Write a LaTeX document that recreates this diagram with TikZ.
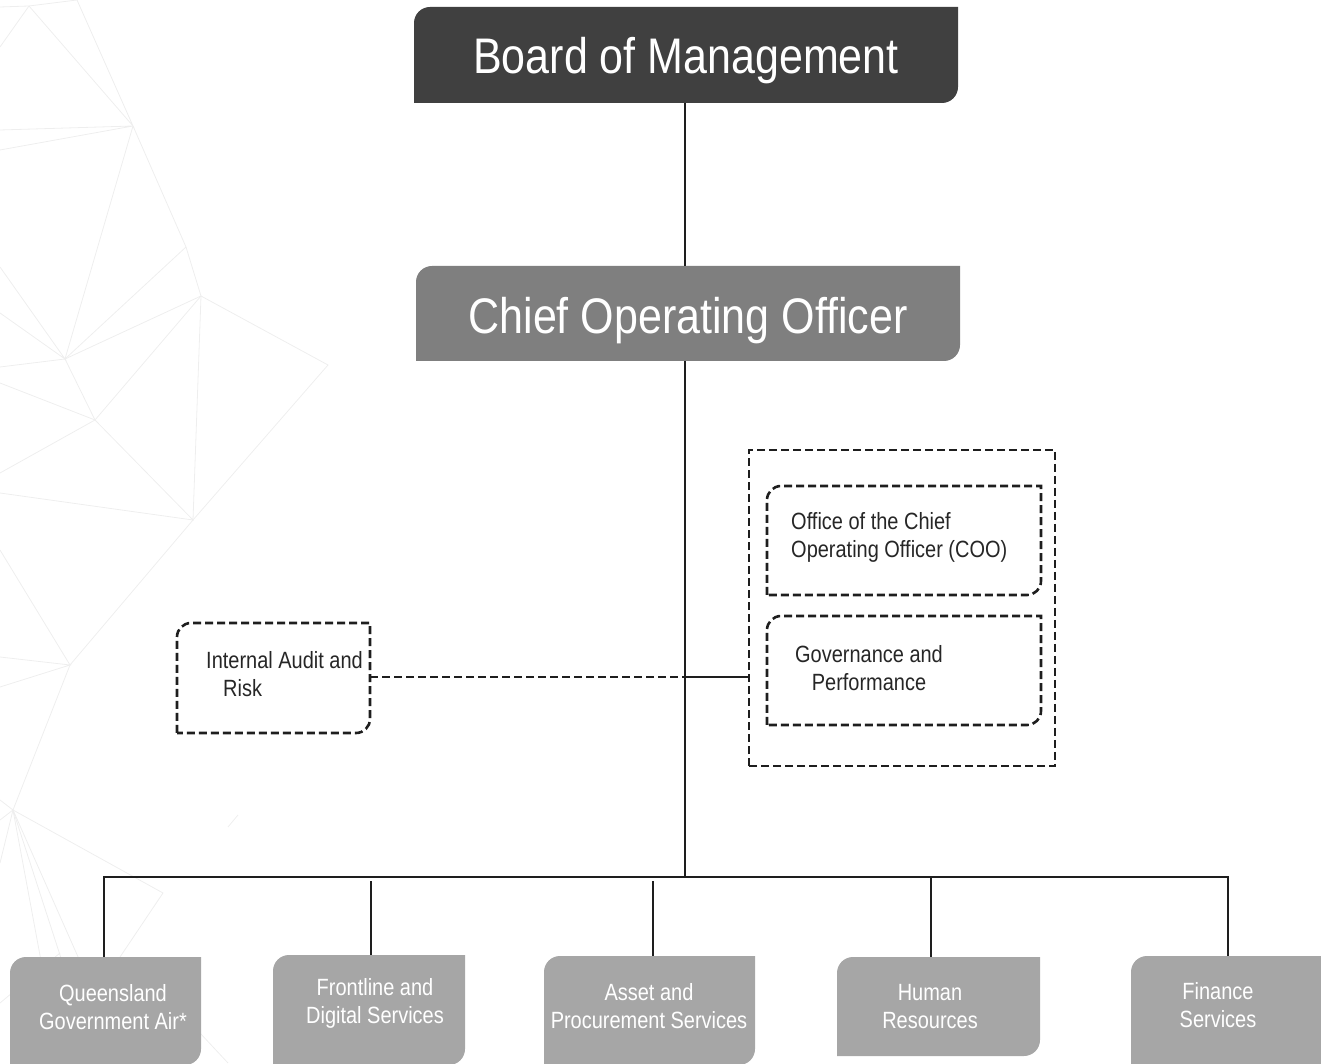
\documentclass[tikz,border=0pt]{standalone}
\usepackage{fontspec}
\setmainfont[FakeStretch=0.85]{Liberation Sans}
\newfontfamily\titlefam[FakeStretch=0.86]{Liberation Sans}
\usetikzlibrary{backgrounds}
\definecolor{boardc}{HTML}{404040}
\definecolor{cooc}{HTML}{7F7F7F}
\definecolor{unitc}{HTML}{A6A6A6}
\definecolor{linec}{HTML}{1E1E1E}
\definecolor{txtc}{HTML}{262626}
\definecolor{faintc}{HTML}{EEEEEE}
\begin{document}
\begin{tikzpicture}[x=1pt,y=1pt,
  frame/.style={rectangle,inner sep=0pt,outer sep=0pt},
  tlbr/.style 2 args={insert path={(#1.south west) -- ([yshift=-#2]#1.north west)
      arc[start angle=180,end angle=90,radius=#2] -- (#1.north east)
      -- ([yshift=#2]#1.south east) arc[start angle=0,end angle=-90,radius=#2] -- cycle}},
  titletext/.style={text=white,font=\titlefam\fontsize{50}{58}\selectfont},
  unittext/.style={text=white,align=center,inner sep=0pt,font=\fontsize{23.5}{28}\selectfont},
  smalltext/.style={text=txtc,inner sep=0pt,font=\fontsize{23.5}{28}\selectfont},
  conn/.style={draw=linec,line width=2.5pt},
  dconn/.style={draw=linec,line width=2.6pt,dash pattern=on 8pt off 4pt},
  faint/.style={draw=faintc,line width=0.8pt}]
\useasboundingbox (0,0) rectangle (1321,1063);
\clip (0,0) rectangle (1321,1063);

% main boxes
\node[frame,minimum width=544,minimum height=96] (board) at (686,1008) {};
\node[titletext] (boardt) at (686,1002) {Board of Management};
\node[frame,minimum width=544,minimum height=95] (coo) at (688,749.5) {};
\node[titletext] (coot) at (688,742) {Chief Operating Officer};

% dashed group
\node[frame,minimum width=306,minimum height=316] (grp) at (902,455) {};
\node[frame,minimum width=274,minimum height=109] (office) at (904,522.5) {};
\node[frame,minimum width=274,minimum height=109] (gov) at (904,392.5) {};
\node[smalltext,anchor=west,align=left] (officet) at (791,525.5) {Office of the Chief\\Operating Officer (COO)};
\node[smalltext,align=center] (govt) at (869,395) {Governance and\\Performance};
\draw[dconn] (grp.south west) rectangle (grp.north east);
\draw[dconn,tlbr={office}{14}];
\draw[dconn,tlbr={gov}{14}];

% internal audit
\node[frame,minimum width=193,minimum height=110] (iar) at (273.5,385) {};
\node[smalltext,anchor=west,align=left] (iart) at (206,389) {Internal Audit and\\\hspace*{17pt}Risk};
\draw[dconn,tlbr={iar}{14}];

% units
\node[frame,minimum width=191,minimum height=108] (qga) at (105.5,52) {};
\node[frame,minimum width=192,minimum height=110] (fds) at (369,53) {};
\node[frame,minimum width=211,minimum height=109] (aps) at (649.5,52.5) {};
\node[frame,minimum width=203,minimum height=99] (hr) at (938.5,56.5) {};
\node[frame,minimum width=200,minimum height=109] (fin) at (1231,52.5) {};
\node[unittext] (qgat) at (113,56) {Queensland\\Government Air*};
\node[unittext] (fdst) at (375,60) {Frontline and\\Digital Services};
\node[unittext] (apst) at (649,57) {Asset and\\Procurement Services};
\node[unittext] (hrt) at (930,56) {Human\\Resources};
\node[unittext] (fint) at (1218,58) {Finance\\Services};

\begin{scope}[on background layer]
% faint background mesh
\begin{scope}[faint]
\draw (0,1056) -- (29,1057) -- (77,1063);
\draw (29,1057) -- (0,1016);
\draw (29,1057) -- (133,937) -- (77,1063);
\draw (0,933) -- (133,937) -- (0,913);
\draw (133,937) -- (186,816) -- (201,767) -- (65,704) -- (133,937);
\draw (186,816) -- (65,704);
\draw (0,796) -- (65,704) -- (0,750);
\draw (0,696) -- (65,704) -- (95,643) -- (201,767);
\draw (0,680) -- (95,643) -- (0,590);
\draw (95,643) -- (193,543) -- (201,767);
\draw (201,767) -- (328,698) -- (193,543);
\draw (0,570) -- (193,543) -- (70,398) -- (0,513);
\draw (0,406) -- (70,398) -- (0,376);
\draw (70,398) -- (13,253) -- (0,263);
\draw (0,243) -- (13,253) -- (163,170) -- (118,103);
\draw (13,253) -- (60,0);
\draw (13,253) -- (95,0);
\draw (13,253) -- (125,0);
\draw (13,253) -- (0,200);
\draw (0,60) -- (60,110);
\draw (200,30) -- (228,0);
\draw (228,236) -- (238,248);
\end{scope}
\fill[boardc,tlbr={board}{16}];
\fill[cooc,tlbr={coo}{16}];
\fill[unitc,tlbr={qga}{16}];
\fill[unitc,tlbr={fds}{16}];
\fill[unitc,tlbr={aps}{16}];
\fill[unitc,tlbr={hr}{16}];
\fill[unitc,tlbr={fin}{16}];
\end{scope}

% connectors
\coordinate (spx) at (685,0);
\coordinate (jn) at (685,386);
\coordinate (d1) at (104,186);
\coordinate (d2) at (371,182);
\coordinate (d3) at (653,182);
\coordinate (d4) at (931,186);
\coordinate (d5) at (1228,186);
\draw[conn] (board.south -| spx) -- (coo.north -| spx);
\draw[conn] (coo.south -| spx) -- (spx |- d1);
\draw[conn,line join=miter] (d1 |- qga.north) -- (d1) -- (d5) -- (d5 |- fin.north);
\draw[conn] (d2) -- (d2 |- fds.north);
\draw[conn] (d3) -- (d3 |- aps.north);
\draw[conn] (d4) -- (d4 |- hr.north);
\draw[dconn] (iar.east |- jn) -- (jn);
\draw[conn] (jn) -- (grp.west |- jn);
\end{tikzpicture}
\end{document}
